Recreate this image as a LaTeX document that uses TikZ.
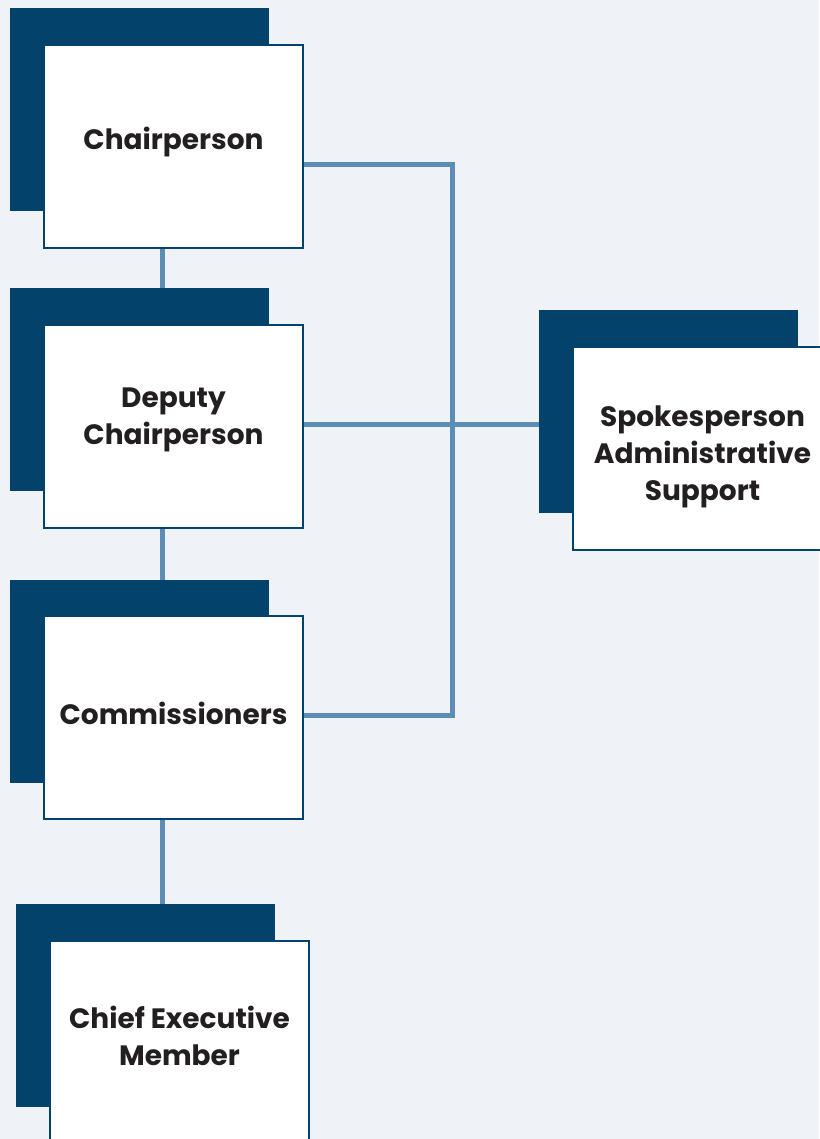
\documentclass[tikz,border=0pt]{standalone}
\usepackage{fontspec}
\setmainfont{Poppins}
\definecolor{bgc}{HTML}{EFF3F7}
\definecolor{navy}{HTML}{03426A}
\definecolor{linec}{HTML}{5B8DB5}
\definecolor{txt}{HTML}{231F20}
\begin{document}
\begin{tikzpicture}[x=1pt,y=-1pt,
  shadowbox/.style={fill=navy,draw=none},
  card/.style={draw=navy,line width=2pt,fill=white,minimum width=259pt,minimum height=203pt,inner sep=0pt,anchor=north west},
  lbl/.style={font=\fontsize{28}{37}\selectfont\bfseries,text=txt,align=center,inner sep=0pt},
  link/.style={draw=linec,line width=5pt}]
\fill[bgc] (0,0) rectangle (819,1139);
\useasboundingbox (0,0) rectangle (819,1139);
% shadows
\fill[shadowbox] (10,8) rectangle (269,211);
\fill[shadowbox] (10,288) rectangle (269,491);
\fill[shadowbox] (10,580) rectangle (269,783);
\fill[shadowbox] (16,904) rectangle (275,1107);
\fill[shadowbox] (539,310) rectangle (798,513);
% helper coordinates
\coordinate (j1) at (452,165);
\coordinate (j2) at (452,715);
\coordinate (vx) at (162,0);
\coordinate (hy) at (0,424);
% cards
\node[card] (chair) at (43,44) {};
\node[card] (deputy) at (43,324) {};
\node[card] (comm) at (43,615) {};
\node[card] (chief) at (49,940) {};
\node[card] (spoke) at (572,346) {};
% labels
\node[lbl] (tchair) at ([yshift=4pt]chair.center) {Chairperson};
\node[lbl] (tdeputy) at ([yshift=7pt]deputy.center) {Deputy\\Chairperson};
\node[lbl] (tcomm) at ([yshift=4pt]comm.center) {Commissioners};
\node[lbl] (tchief) at ([yshift=7pt]chief.center) {Chief Executive\\Member};
\node[lbl] (tspoke) at ([yshift=-8pt]spoke.center) {Spokesperson\\Administrative\\Support};
% connectors
\draw[link] (chair.east |- j1) -- (j1) -- (j2) -- (comm.east |- j2);
\draw[link,shorten >=3pt] (deputy.east |- hy) -- (spoke.west |- hy);
\draw[link,shorten >=3pt] (chair.south -| vx) -- (deputy.north -| vx);
\draw[link,shorten >=3pt] (deputy.south -| vx) -- (comm.north -| vx);
\draw[link,shorten >=3pt] (comm.south -| vx) -- (chief.north -| vx);
% shadows overlap connector ends
\fill[shadowbox] (539,310) rectangle (571,513);
\fill[shadowbox] (16,904) rectangle (275,939);
\fill[shadowbox] (10,288) rectangle (269,323);
\fill[shadowbox] (10,580) rectangle (269,614);
\end{tikzpicture}
\end{document}
